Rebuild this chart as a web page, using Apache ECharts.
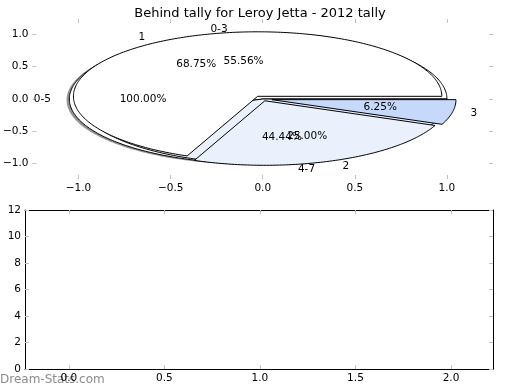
<!DOCTYPE html>
<html><head><meta charset="utf-8">
<script src="https://cdn.jsdelivr.net/npm/echarts@6/dist/echarts.min.js"></script>
<style>html,body{margin:0;padding:0;background:#fff}#c{width:520px;height:390px}</style>
</head><body><div id="c"></div>
<script>
// ---- data ----
const titleText = 'Behind tally for Leroy Jetta - 2012 tally';
const pieALabels = ['0-5'];
const pieAValues = [16];
const pieBLabels = ['1', '2', '3'];
const pieBValues = [11, 4, 1];
const pieCLabels = ['0-3', '4-7'];
const pieCValues = [5, 4];
const topXTicks = [-1.0, -0.5, 0.0, 0.5, 1.0];
const topYTicks = [-1.0, -0.5, 0.0, 0.5, 1.0];
const bottomXTicks = [0.0, 0.5, 1.0, 1.5, 2.0];
const bottomYTicks = [0, 2, 4, 6, 8, 10, 12];
const watermarkText = 'Dream-Stats.com';

// ---- styles ----
const styleA = { colors: ['#ffffff'], explode: [0.05], shadow: true };
const styleC = { colors: ['#ffffff', '#eaf1fd'], explode: [0, 0], shadow: false };
const styleB = { colors: ['#ffffff', '#eaf1fd', '#c6d9fb'], explode: [0.05, 0.03, 0.05], shadow: false };
const FONT = '10.5px "DejaVu Sans"';

function wedgeData(values, st) {
  const sum = values.reduce((a, b) => a + b, 0);
  let t = 0;
  return values.map((v, i) => {
    const sweep = 360 * v / sum;
    const d = [t, t + sweep, st.explode[i], v / sum * 100];
    t += sweep;
    return d;
  });
}

function wedgePts(api, cx, cy, t1, t2) {
  const pts = [];
  const full = (t2 - t1) >= 359.999;
  if (!full) pts.push(api.coord([cx, cy]));
  const n = Math.max(8, Math.ceil(t2 - t1));
  for (let i = 0; i <= n; i++) {
    const a = (t1 + (t2 - t1) * i / n) * Math.PI / 180;
    pts.push(api.coord([cx + Math.cos(a), cy + Math.sin(a)]));
  }
  return pts;
}

function wedgeRenderer(st) {
  return function (params, api) {
    const t1 = api.value(0), t2 = api.value(1), ex = api.value(2);
    const tm = (t1 + t2) / 2 * Math.PI / 180;
    const cx = ex * Math.cos(tm), cy = ex * Math.sin(tm);
    const children = [];
    if (st.shadow) {
      children.push({
        type: 'polygon',
        shape: { points: wedgePts(api, cx - 0.015, cy - 0.015, t1, t2) },
        style: { fill: 'rgba(60,60,60,0.55)', stroke: null }
      });
    }
    children.push({
      type: 'polygon',
      shape: { points: wedgePts(api, cx, cy, t1, t2) },
      style: { fill: st.colors[params.dataIndex], stroke: '#000', lineWidth: 1 }
    });
    return { type: 'group', children };
  };
}

function textRenderer(labels) {
  return function (params, api) {
    const t1 = api.value(0), t2 = api.value(1), ex = api.value(2), pct = api.value(3);
    const tm = (t1 + t2) / 2 * Math.PI / 180;
    const cx = ex * Math.cos(tm), cy = ex * Math.sin(tm);
    const lx = cx + 1.1 * Math.cos(tm), ly = cy + 1.1 * Math.sin(tm);
    const px = cx + 0.6 * Math.cos(tm), py = cy + 0.6 * Math.sin(tm);
    const lp = api.coord([lx, ly]);
    const pp = api.coord([px, py]);
    return {
      type: 'group',
      children: [
        { type: 'text', x: lp[0], y: lp[1], style: { text: labels[params.dataIndex], font: FONT, fill: '#000', align: lx > 0 ? 'left' : 'right', verticalAlign: 'middle' } },
        { type: 'text', x: pp[0], y: pp[1], style: { text: pct.toFixed(2) + '%', font: FONT, fill: '#000', align: 'center', verticalAlign: 'middle' } }
      ]
    };
  };
}

const fmt1 = v => (Math.abs(v) < 1e-9 ? 0 : v).toFixed(1).replace('-', '\u2212');
const fmt0 = v => String(Math.round(v)).replace('-', '\u2212');
const tickStyle = { color: '#c0c0c0', width: 1 };
const axisLabelBase = { color: '#000', fontFamily: 'DejaVu Sans', fontSize: 10.5 };

function mkAx(grid, pos, min, max, ticks, showLabel, showLine, f) {
  return {
    type: 'value', gridIndex: grid, position: pos, min, max,
    axisLine: { show: showLine, onZero: false, lineStyle: { color: '#000', width: 1 } },
    axisTick: { show: true, inside: true, length: 4, lineStyle: tickStyle, customValues: ticks },
    axisLabel: Object.assign({ show: showLabel, margin: 4, customValues: ticks, formatter: f, showMinLabel: true, showMaxLabel: true }, axisLabelBase),
    splitLine: { show: false }
  };
}

const chart = echarts.init(document.getElementById('c'), null, { renderer: 'canvas' });
chart.setOption({
  animation: false,
  backgroundColor: '#fff',
  title: {
    text: titleText, left: 'center', top: 2,
    textStyle: { fontFamily: 'DejaVu Sans', fontSize: 13, fontWeight: 'normal', color: '#000' }
  },
  grid: [
    { left: 25, width: 468, top: 19, height: 160 },
    { left: 25, width: 468, top: 210, height: 159 }
  ],
  xAxis: [
    mkAx(0, 'bottom', -1.25, 1.25, topXTicks, true, false, fmt1),
    mkAx(0, 'top', -1.25, 1.25, topXTicks, false, false, fmt1),
    mkAx(1, 'bottom', -0.23, 2.22, bottomXTicks, true, true, fmt1),
    mkAx(1, 'top', -0.23, 2.22, bottomXTicks, false, true, fmt1)
  ],
  yAxis: [
    mkAx(0, 'left', -1.24, 1.24, topYTicks, true, false, fmt1),
    mkAx(0, 'right', -1.24, 1.24, topYTicks, false, false, fmt1),
    mkAx(1, 'left', 0, 12, bottomYTicks, true, true, fmt0),
    mkAx(1, 'right', 0, 12, bottomYTicks, false, true, fmt0)
  ],
  graphic: [{
    type: 'text', left: 0, top: 374,
    style: { text: watermarkText, font: '12px "DejaVu Sans"', fill: '#8c8c8c' }
  }],
  series: [
    { type: 'custom', coordinateSystem: 'cartesian2d', xAxisIndex: 0, yAxisIndex: 0, z: 2, clip: false,
      renderItem: wedgeRenderer(styleA), data: wedgeData(pieAValues, styleA) },
    { type: 'custom', coordinateSystem: 'cartesian2d', xAxisIndex: 0, yAxisIndex: 0, z: 3, clip: false,
      renderItem: wedgeRenderer(styleC), data: wedgeData(pieCValues, styleC) },
    { type: 'custom', coordinateSystem: 'cartesian2d', xAxisIndex: 0, yAxisIndex: 0, z: 4, clip: false,
      renderItem: wedgeRenderer(styleB), data: wedgeData(pieBValues, styleB) },
    { type: 'custom', coordinateSystem: 'cartesian2d', xAxisIndex: 0, yAxisIndex: 0, z: 10, clip: false,
      renderItem: textRenderer(pieALabels), data: wedgeData(pieAValues, styleA) },
    { type: 'custom', coordinateSystem: 'cartesian2d', xAxisIndex: 0, yAxisIndex: 0, z: 10, clip: false,
      renderItem: textRenderer(pieBLabels), data: wedgeData(pieBValues, styleB) },
    { type: 'custom', coordinateSystem: 'cartesian2d', xAxisIndex: 0, yAxisIndex: 0, z: 10, clip: false,
      renderItem: textRenderer(pieCLabels), data: wedgeData(pieCValues, styleC) },
    { type: 'line', xAxisIndex: 2, yAxisIndex: 2, data: [], silent: true }
  ]
});
</script>
</body></html>
